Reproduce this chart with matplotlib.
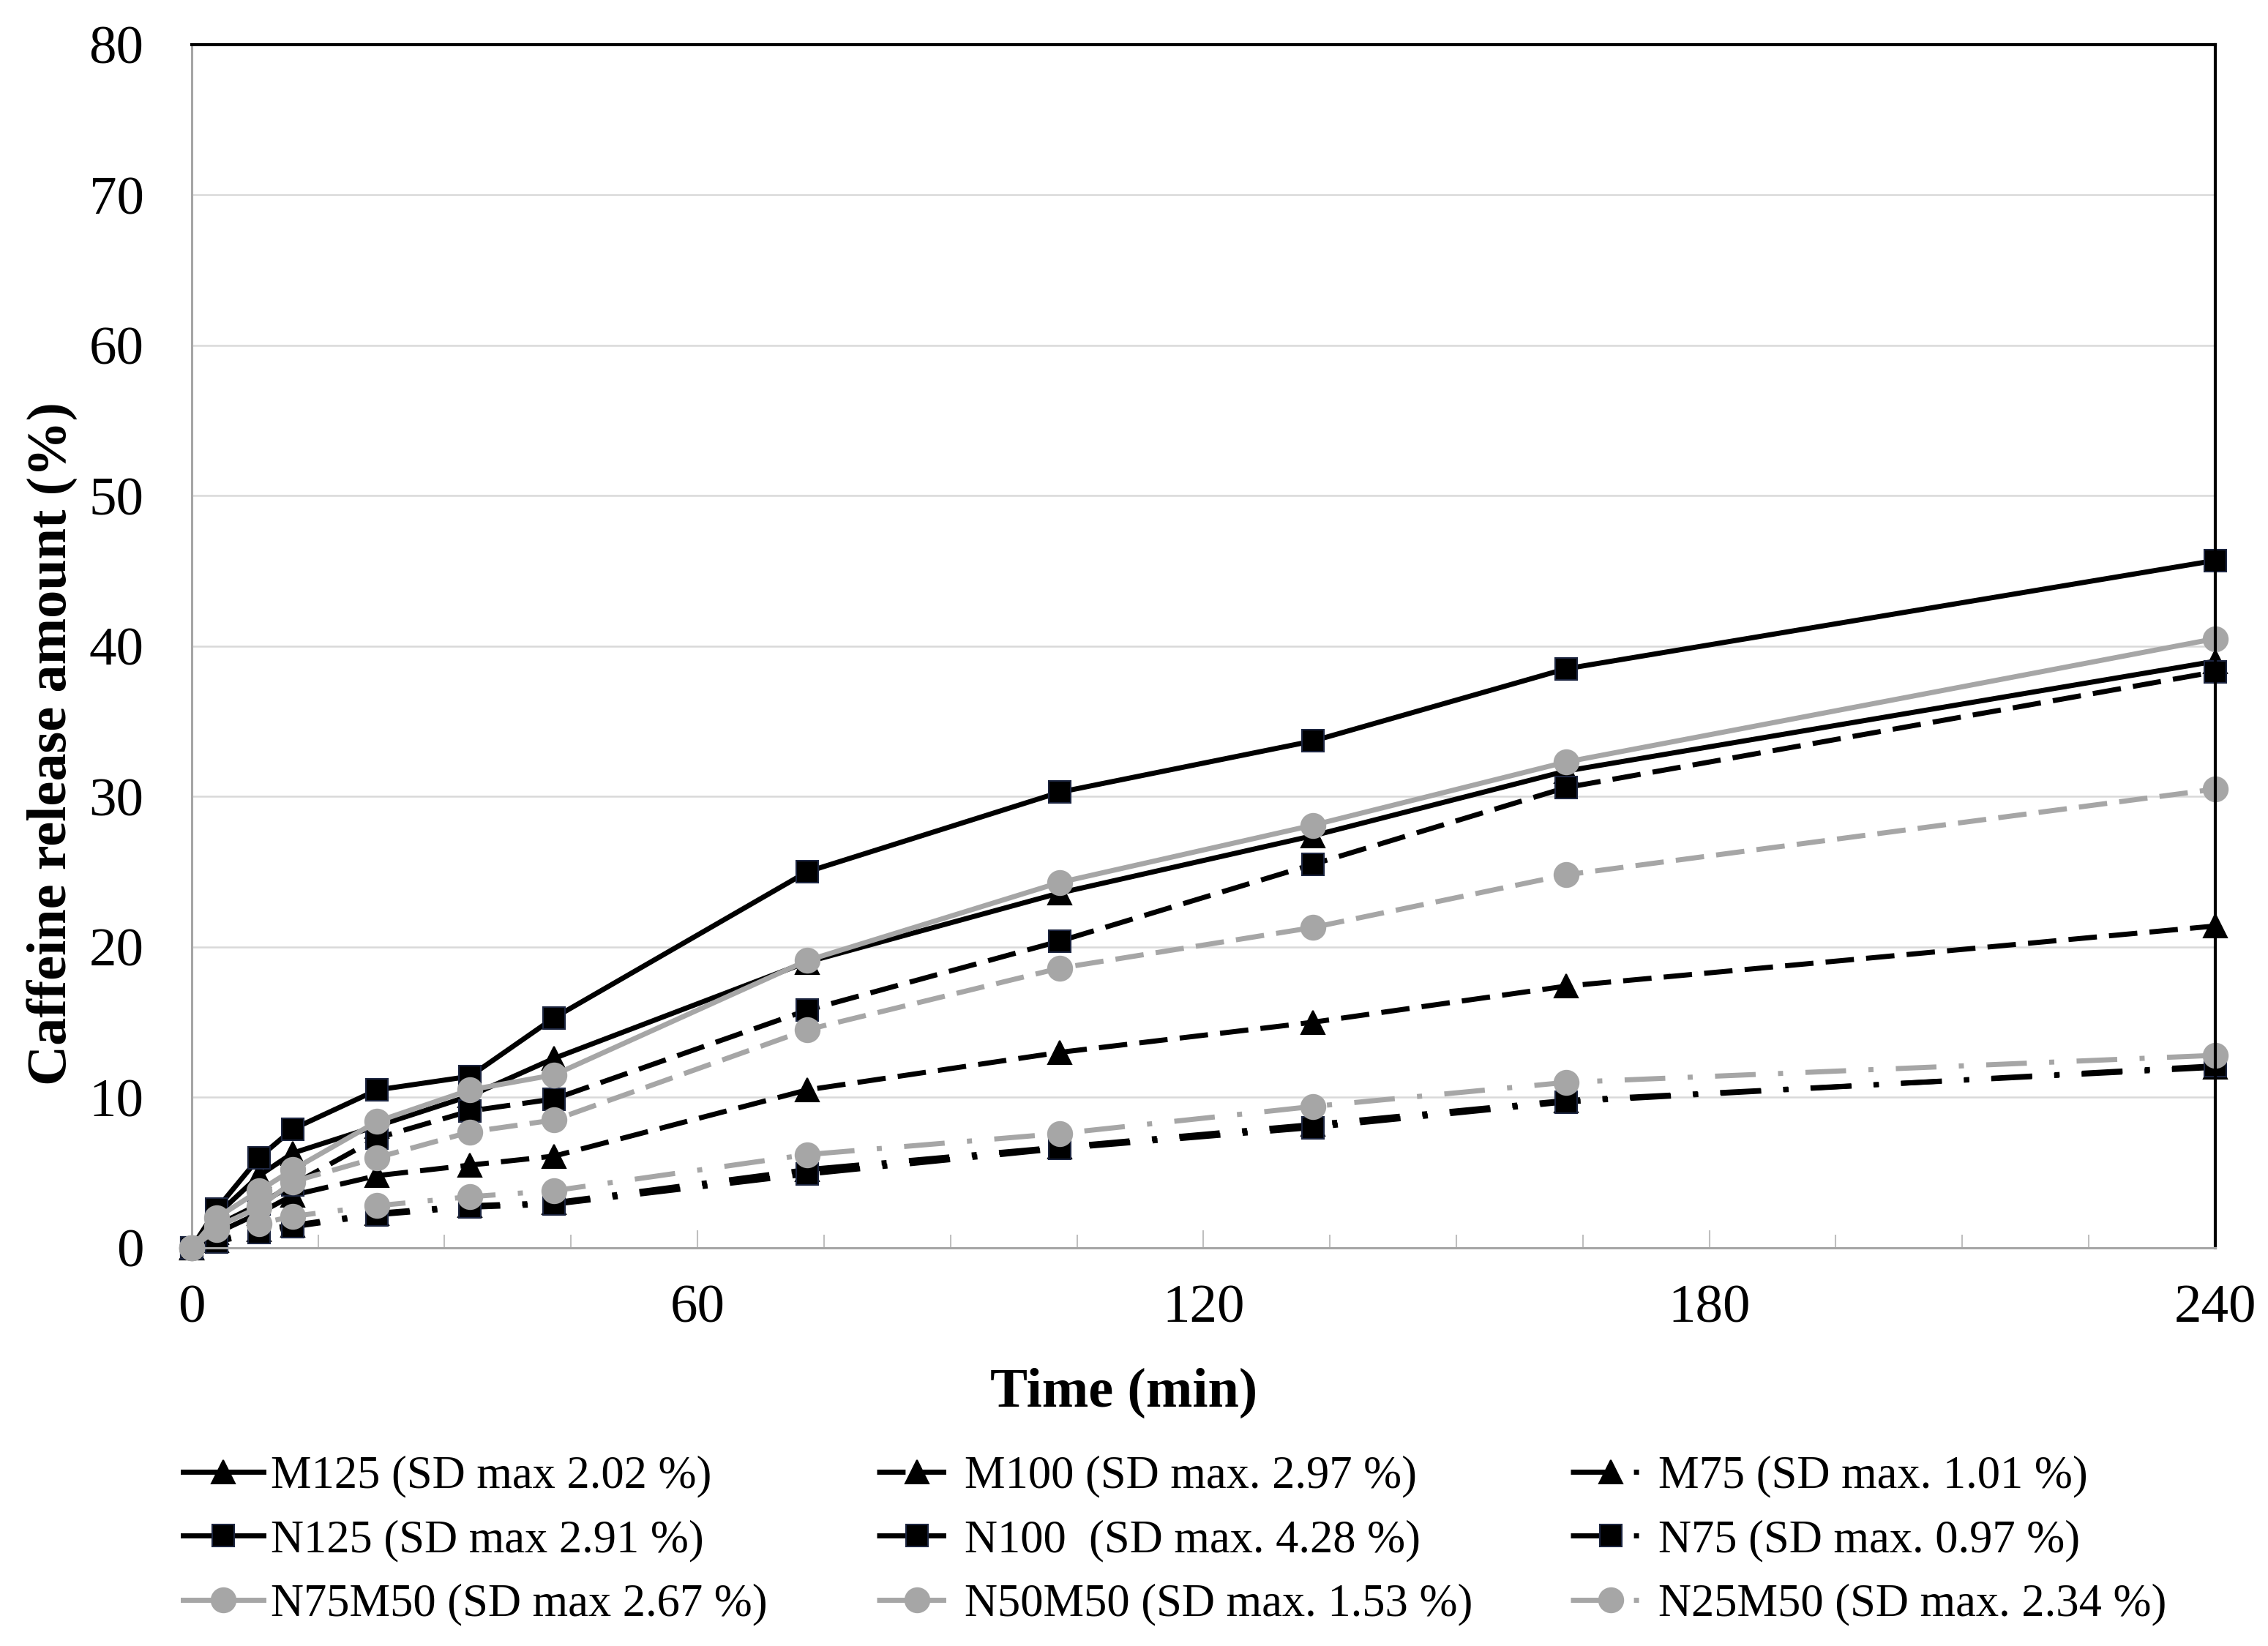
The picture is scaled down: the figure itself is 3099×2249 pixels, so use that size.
import matplotlib
matplotlib.use('Agg')
import matplotlib.pyplot as plt
from matplotlib.ticker import MultipleLocator

plt.rcParams['font.family'] = ['Liberation Serif', 'DejaVu Serif']

# release data (%)
time = [0, 3, 8, 12, 22, 33, 43, 73, 103, 133, 163, 240]
M125 = [0, 2.2, 4.8, 6.3, 8.1, 10.1, 12.6, 19.0, 23.6, 27.4, 31.7, 39.0]
M100 = [0, 1.0, 2.3, 3.5, 4.8, 5.5, 6.1, 10.5, 13.0, 15.0, 17.4, 21.4]
M75 = [0, 0.5, 1.2, 1.5, 2.3, 2.8, 3.0, 5.2, 6.7, 8.2, 9.8, 12.0]
N125 = [0, 2.6, 6.0, 7.9, 10.5, 11.4, 15.3, 25.0, 30.3, 33.7, 38.5, 45.7]
N100 = [0, 1.5, 2.9, 4.2, 7.3, 9.1, 9.9, 15.8, 20.4, 25.5, 30.6, 38.3]
N75 = [0, 0.4, 1.0, 1.4, 2.2, 2.7, 2.9, 4.9, 6.6, 8.0, 9.7, 12.1]
N75M50 = [0, 2.0, 3.8, 5.2, 8.4, 10.5, 11.5, 19.1, 24.3, 28.1, 32.3, 40.5]
N50M50 = [0, 1.4, 2.7, 4.4, 6.0, 7.7, 8.5, 14.5, 18.6, 21.3, 24.8, 30.5]
N25M50 = [0, 1.2, 1.6, 2.1, 2.8, 3.4, 3.8, 6.2, 7.6, 9.4, 11.0, 12.8]

labels = ['M125 (SD max 2.02 %)', 'M100 (SD max. 2.97 %)', 'M75 (SD max. 1.01 %)',
          'N125 (SD max 2.91 %)', 'N100  (SD max. 4.28 %)', 'N75 (SD max. 0.97 %)',
          'N75M50 (SD max 2.67 %)', 'N50M50 (SD max. 1.53 %)', 'N25M50 (SD max. 2.34 %)']

GRAY = '#a6a6a6'
solid = None
dash = (5.6, 2.4)
dashdot = (8, 4.4, 1, 4.4)

styles = [
    (M125, 'black', '^', solid),
    (M100, 'black', '^', dash),
    (M75, 'black', '^', dashdot),
    (N125, 'black', 's', solid),
    (N100, 'black', 's', dash),
    (N75, 'black', 's', dashdot),
    (N75M50, GRAY, 'o', solid),
    (N50M50, GRAY, 'o', dash),
    (N25M50, GRAY, 'o', dashdot),
]
msize = {'^': 23, 's': 22, 'o': 24}

fig = plt.figure(figsize=(30.99, 22.49), dpi=100)
ax = fig.add_axes([0.0845, 0.2419, 0.8922, 0.731])

handles = []
for (vals, col, mk, ds), lab in zip(styles, labels):
    ln, = ax.plot(time, vals, color=col, lw=5, marker=mk, markersize=msize[mk],
                  markerfacecolor=col, markeredgecolor=('#1c2540' if mk == 's' else col),
                  markeredgewidth=1.5, label=lab, clip_on=False)
    if ds is not None:
        ln.set_dashes(ds)
    handles.append(ln)

ax.set_xlim(0, 240)
ax.set_ylim(0, 80)
ax.xaxis.set_major_locator(MultipleLocator(60))
ax.xaxis.set_minor_locator(MultipleLocator(15))
ax.yaxis.set_major_locator(MultipleLocator(10))
ax.yaxis.grid(True, color='#d9d9d9', lw=1.8)
ax.set_axisbelow(True)

for s in ['left', 'bottom']:
    ax.spines[s].set_color('#a6a6a6')
    ax.spines[s].set_linewidth(2.2)
for s in ['top', 'right']:
    ax.spines[s].set_color('black')
    ax.spines[s].set_linewidth(3)

ax.tick_params(axis='x', which='major', direction='in', length=17, width=1.5,
               color='#bfbfbf', labelsize=54, pad=36)
ax.tick_params(axis='x', which='minor', direction='in', length=13, width=1.5,
               color='#bfbfbf')
ax.tick_params(axis='y', length=0, labelsize=54, pad=47)

fig.text(1536 / 3099, 1 - 1903 / 2249, 'Time (min)', fontsize=55, fontweight='bold',
         ha='center', va='center')
fig.text(72 / 3099, 1 - 1016 / 2249, 'Caffeine release amount (%)', fontsize=55,
         fontweight='bold', rotation=90, ha='center', va='center')

# three one-column legends, like the Excel legend grid
colx = [250 / 3099, 1198 / 3099, 2146 / 3099]
for i in range(3):
    fig.legend(handles=[handles[i], handles[i + 3], handles[i + 6]],
               loc='center left', bbox_to_anchor=(colx[i], 1 - 2105 / 2249),
               frameon=False, fontsize=45, handlelength=1.76, handletextpad=0.16,
               labelspacing=0.47, borderpad=0, borderaxespad=0, numpoints=1)

fig.savefig('out.png', dpi=100)
